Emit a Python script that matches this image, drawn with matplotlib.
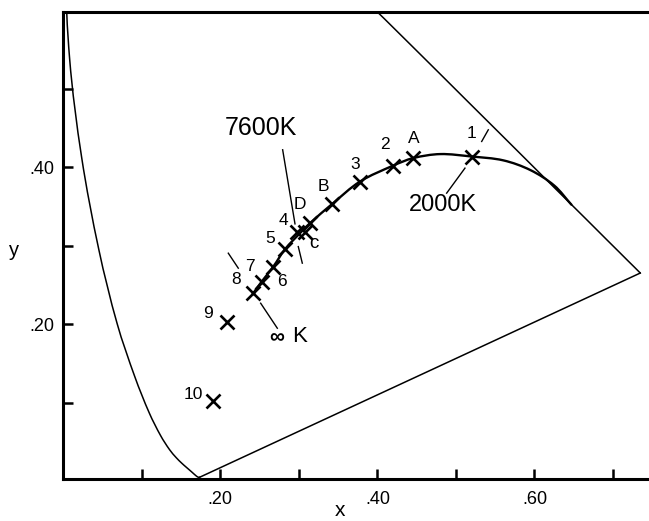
import matplotlib
matplotlib.use("Agg")
import numpy as np
import matplotlib.pyplot as plt
from matplotlib.path import Path
from matplotlib.patches import PathPatch

plt.rcParams['font.family'] = ['Liberation Sans', 'DejaVu Sans']

# CIE 1931 spectral locus (x, y), 380-700 nm
locus_x = [0.1741, 0.1738, 0.1733, 0.1726, 0.1714, 0.1689, 0.1644, 0.1611, 0.1566,
           0.1510, 0.1440, 0.1355, 0.1241, 0.1096, 0.0913, 0.0687, 0.0454, 0.0235,
           0.0082, 0.0039, 0.0139, 0.0743, 0.1547, 0.2296, 0.3016, 0.3731, 0.4441,
           0.5125, 0.5752, 0.6270, 0.6658, 0.6915, 0.7079, 0.7190, 0.7260, 0.7300,
           0.7334, 0.7347]
locus_y = [0.0050, 0.0049, 0.0048, 0.0048, 0.0051, 0.0069, 0.0109, 0.0138, 0.0177,
           0.0227, 0.0297, 0.0399, 0.0578, 0.0868, 0.1327, 0.2007, 0.2950, 0.4127,
           0.5384, 0.6548, 0.7502, 0.8338, 0.8059, 0.7543, 0.6923, 0.6245, 0.5547,
           0.4866, 0.4242, 0.3725, 0.3340, 0.3083, 0.2920, 0.2809, 0.2740, 0.2700,
           0.2666, 0.2653]

# Blackbody locus, from infinite temperature down to ~1000 K
planck_x = [0.2420, 0.2527, 0.2675, 0.2824, 0.3025, 0.3142, 0.3426, 0.3779, 0.4203,
            0.4457, 0.4800, 0.5200, 0.5603, 0.5950, 0.6250, 0.6470]
planck_y = [0.2396, 0.2544, 0.2735, 0.2957, 0.3172, 0.3289, 0.3535, 0.3820, 0.4024,
            0.4119, 0.4170, 0.4139, 0.4090, 0.3965, 0.3770, 0.3525]

# Sources plotted as crosses
src_names = ['1', 'A', '2', '3', 'B', 'D', '4', 'c', '5', '6', '7', '8', '9', '10']
src_x = [0.5200, 0.4457, 0.4203, 0.3779, 0.3426, 0.3142, 0.2973, 0.3078, 0.2824,
         0.2675, 0.2527, 0.2420, 0.2081, 0.1911]
src_y = [0.4139, 0.4119, 0.4024, 0.3820, 0.3535, 0.3289, 0.3174, 0.3182, 0.2957,
         0.2735, 0.2544, 0.2396, 0.2033, 0.1025]
src_lab_x = [0.5200, 0.4466, 0.4097, 0.3715, 0.3311, 0.3015, 0.2802, 0.3197, 0.2633,
             0.2782, 0.2378, 0.2196, 0.1847, 0.1656]
src_lab_y = [0.4437, 0.4365, 0.4288, 0.4033, 0.3756, 0.3523, 0.3322, 0.3034, 0.3098,
             0.2544, 0.2735, 0.2565, 0.2140, 0.1110]

# Temperature call-outs: leader segments (x0, y0, x1, y1)
leaders = [
    (0.2794, 0.4225, 0.2951, 0.3280), (0.2993, 0.2990, 0.3044, 0.2779),   # 7600 K
    (0.4882, 0.3672, 0.5115, 0.3991), (0.5328, 0.4331, 0.5412, 0.4480),   # 2000 K
    (0.2102, 0.2906, 0.2229, 0.2715), (0.2514, 0.2268, 0.2726, 0.1949),   # infinity
]

x_ticks = [0.1, 0.2, 0.3, 0.4, 0.5, 0.6, 0.7]
x_tick_labels = ['', '.20', '', '.40', '', '.60', '']
y_ticks = [0.1, 0.2, 0.3, 0.4, 0.5]
y_tick_labels = ['', '.20', '', '.40', '']


def smooth_path(xs, ys):
    """Cubic Bezier path through the given points (chord-scaled tangents)."""
    p = np.column_stack([xs, ys]).astype(float)
    n = len(p)
    verts = [p[0]]
    codes = [Path.MOVETO]
    tang = np.zeros_like(p)
    for i in range(n):
        a = p[max(i - 1, 0)]
        b = p[min(i + 1, n - 1)]
        d = b - a
        tang[i] = d / (np.hypot(*d) or 1.0)
    for i in range(n - 1):
        seg = np.hypot(*(p[i + 1] - p[i]))
        verts += [p[i] + tang[i] * seg / 3, p[i + 1] - tang[i + 1] * seg / 3, p[i + 1]]
        codes += [Path.CURVE4] * 3
    return Path(verts, codes)


W, H = 649, 521
fig = plt.figure(figsize=(W / 100, H / 100), dpi=100)
ax = fig.add_axes([63.2 / W, 42 / H, (W - 63.2) / W, (479 - 11.7) / H])
ax.set_xlim(0, 0.7458)
ax.set_ylim(0.0026, 0.5986)

# spectral locus, closed by the straight purple line
ax.add_patch(PathPatch(smooth_path(locus_x, locus_y), facecolor='none',
                       edgecolor='black', lw=1.1, capstyle='round'))
ax.plot([locus_x[0], locus_x[-1]], [locus_y[0], locus_y[-1]], color='black', lw=1.1)

# blackbody locus
ax.add_patch(PathPatch(smooth_path(planck_x, planck_y), facecolor='none',
                       edgecolor='black', lw=1.7, capstyle='round'))

ax.plot(src_x, src_y, linestyle='none', marker='x', markersize=10.5,
        markeredgewidth=1.9, color='black')

for name, lx, ly in zip(src_names, src_lab_x, src_lab_y):
    ax.text(lx, ly, name, ha='center', va='center',
            fontsize=13.5 if name == 'c' else 12.5)

for x0, y0, x1, y1 in leaders:
    ax.plot([x0, x1], [y0, y1], color='black', lw=1.0)

ax.text(0.2516, 0.4502, '7600K', ha='center', va='center', fontsize=18)
ax.text(0.4829, 0.3523, '2000K', ha='center', va='center', fontsize=17)
ax.text(0.2718, 0.1834, '\u221e', ha='center', va='center', fontsize=15,
        fontweight='bold')
ax.text(0.3015, 0.1838, 'K', ha='center', va='center', fontsize=16)

ax.set_xticks(x_ticks)
ax.set_xticklabels(x_tick_labels)
ax.set_yticks(y_ticks)
ax.set_yticklabels(y_tick_labels)
ax.tick_params(axis='both', direction='in', length=7, width=1.8, labelsize=13)
ax.tick_params(axis='x', pad=9)
ax.tick_params(axis='y', pad=6)

for side in ('left', 'bottom', 'top'):
    ax.spines[side].set_linewidth(2.2)
ax.spines['right'].set_visible(False)

fig.text(14 / W, 1 - 251 / H, 'y', ha='center', va='center', fontsize=14.5)
fig.text(340 / W, 1 - 511 / H, 'x', ha='center', va='center', fontsize=15)

fig.savefig('out.png', dpi=100)
